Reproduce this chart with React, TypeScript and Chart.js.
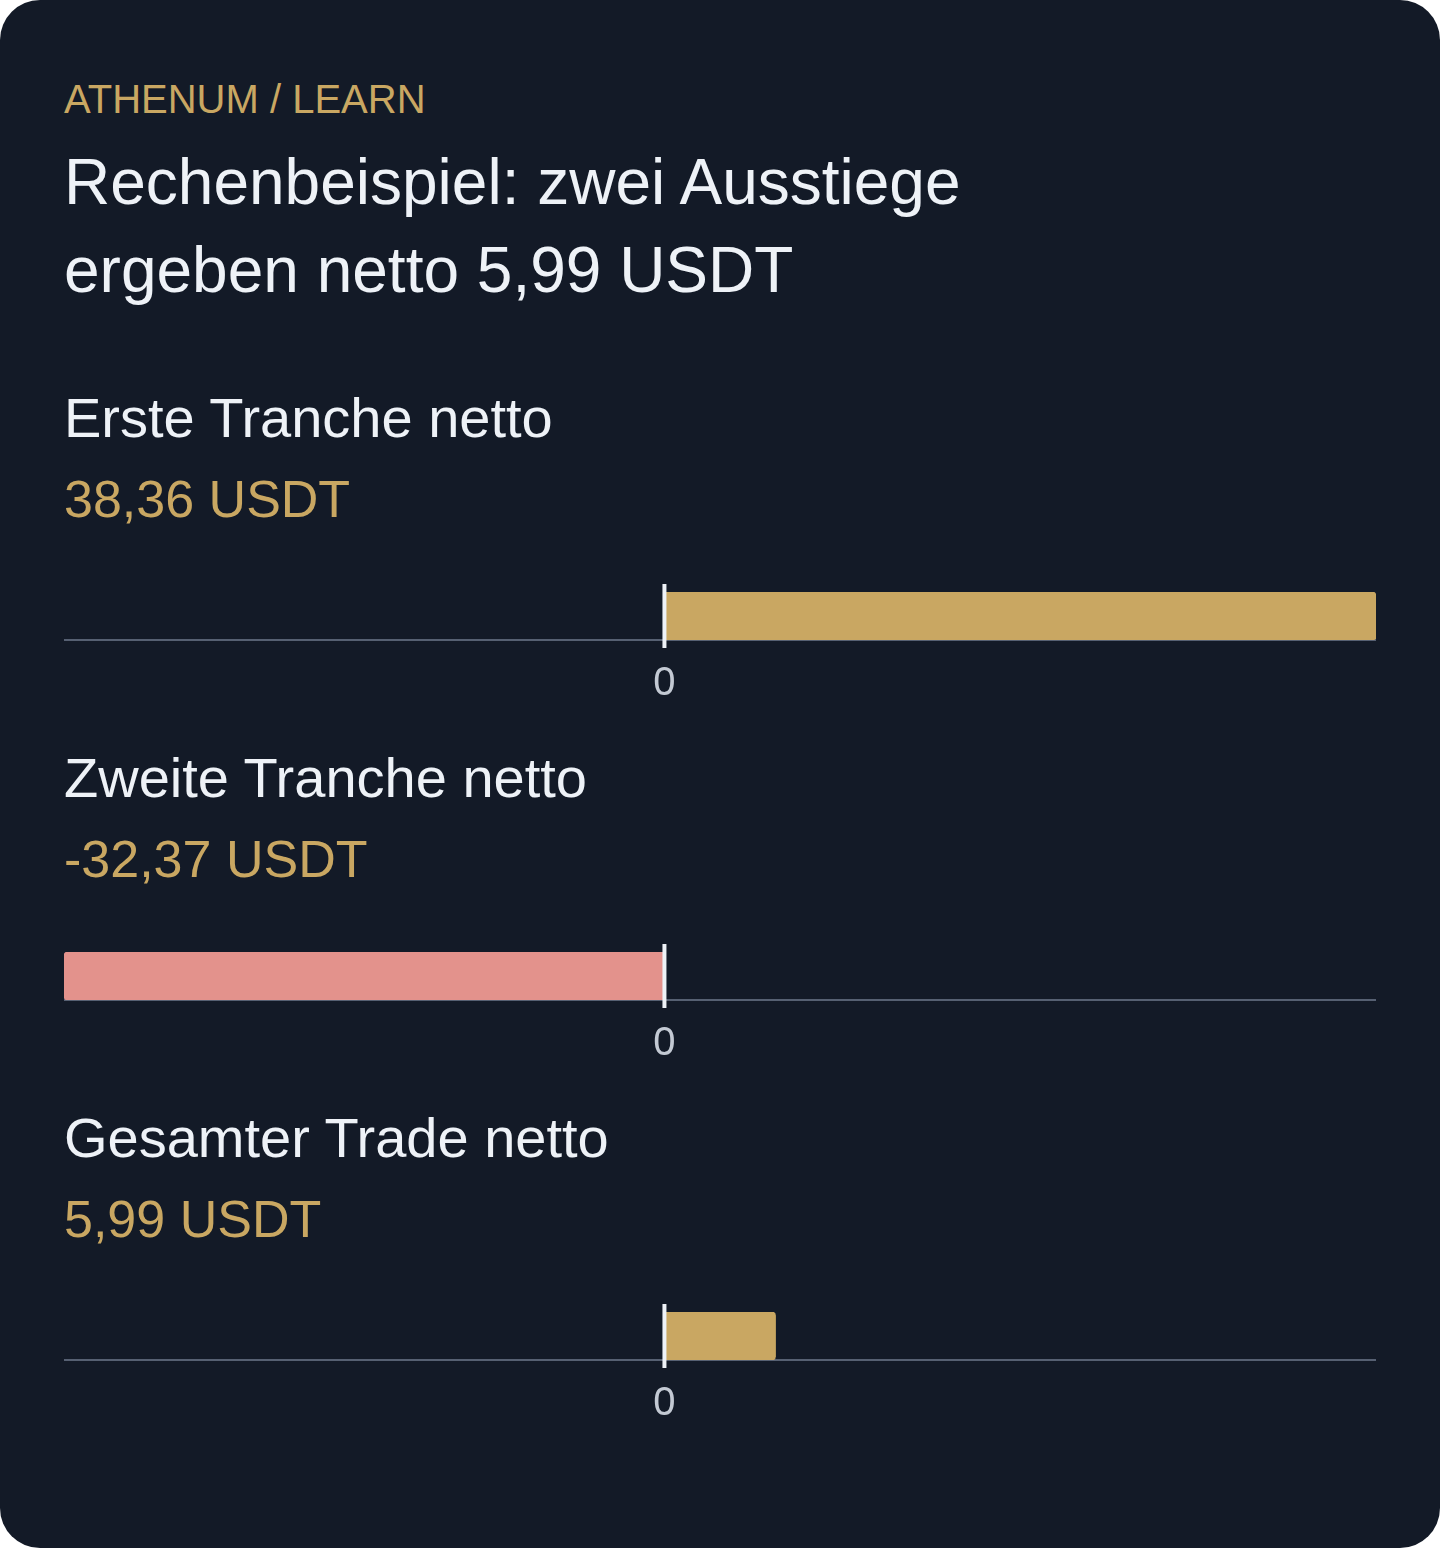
import React, { useEffect, useRef } from 'react';
import { Chart, registerables } from 'chart.js';

Chart.register(...registerables);

// ---- data ----
const eyebrowText = 'ATHENUM / LEARN';
const titleText = 'Rechenbeispiel: zwei Ausstiege ergeben netto 5,99 USDT';
const categories = ['Erste Tranche netto', 'Zweite Tranche netto', 'Gesamter Trade netto'];
const netValues = [38.36, -32.37, 5.99];
const valueLabels = ['38,36 USDT', '-32,37 USDT', '5,99 USDT'];
const tickValues = [0];

// ---- styles ----
const FONT = '"Liberation Sans", Arial, Helvetica, sans-serif';
const BG = '#131a27';
const GOLD = '#c9a762';
const PINK = '#e3928c';
const TEXT = '#eef2f7';
const TICK = '#c3c9d3';
const AXIS = '#566072';

const axisMin = Math.min(...netValues);
const axisMax = Math.max(...netValues);

const zeroLinePlugin = {
  id: 'zeroLine',
  afterDatasetsDraw(chart: any) {
    const { ctx, chartArea } = chart;
    const x = chart.scales.x.getPixelForValue(0);
    ctx.save();
    ctx.strokeStyle = TEXT;
    ctx.lineWidth = 4;
    ctx.beginPath();
    ctx.moveTo(x, chartArea.top - 8);
    ctx.lineTo(x, chartArea.bottom + 8);
    ctx.stroke();
    ctx.restore();
  },
};

function BarRow({ label, value }: { label: string; value: number }) {
  const ref = useRef<HTMLCanvasElement | null>(null);
  useEffect(() => {
    if (!ref.current) return;
    const chart = new Chart(ref.current, {
      type: 'bar',
      data: {
        labels: [label],
        datasets: [
          {
            data: [value],
            backgroundColor: value >= 0 ? GOLD : PINK,
            borderRadius: 4,
            borderSkipped: 'start',
            barPercentage: 1,
            categoryPercentage: 1,
          },
        ],
      },
      options: {
        indexAxis: 'y',
        animation: false,
        responsive: true,
        maintainAspectRatio: false,
        layout: { padding: { top: 16, bottom: 0, left: 0, right: 0 } },
        plugins: { legend: { display: false }, tooltip: { enabled: false } },
        scales: {
          y: { display: false },
          x: {
            type: 'linear',
            min: axisMin,
            max: axisMax,
            afterBuildTicks: (axis: any) => {
              axis.ticks = tickValues.map((v) => ({ value: v }));
            },
            afterFit: (axis: any) => {
              axis.height = 64;
            },
            grid: { display: false, drawTicks: false },
            border: { display: true, color: AXIS, width: 2 },
            ticks: {
              padding: 20,
              color: TICK,
              font: { family: FONT, size: 40 },
              maxRotation: 0,
              autoSkip: false,
              callback: (v: any) => String(v),
            },
          },
        },
      },
      plugins: [zeroLinePlugin],
    } as any);
    return () => chart.destroy();
  }, [label, value]);
  return (
    <div style={{ position: 'absolute', left: 64, top: 186, width: 1312, height: 128 }}>
      <canvas ref={ref} />
    </div>
  );
}

export default function App() {
  return (
    <>
      <style>{`html,body{margin:0;padding:0;background:#ffffff;}`}</style>
      <div
        style={{
          position: 'relative',
          width: 1440,
          height: 1548,
          background: BG,
          borderRadius: 40,
          overflow: 'hidden',
          fontFamily: FONT,
        }}
      >
        <div
          style={{
            position: 'absolute',
            left: 64,
            top: 79,
            fontSize: 40,
            lineHeight: '40px',
            color: GOLD,
            whiteSpace: 'nowrap',
          }}
        >
          {eyebrowText}
        </div>
        <div
          style={{
            position: 'absolute',
            left: 64,
            top: 138,
            width: 1000,
            fontSize: 64,
            lineHeight: '88px',
            color: TEXT,
          }}
        >
          {titleText}
        </div>
        {categories.map((cat, i) => (
          <div
            key={cat}
            style={{ position: 'absolute', left: 0, top: 390 + 360 * i, width: 1440, height: 360 }}
          >
            <div
              style={{
                position: 'absolute',
                left: 64,
                top: 0,
                fontSize: 56,
                lineHeight: '56px',
                color: TEXT,
                whiteSpace: 'nowrap',
              }}
            >
              {cat}
            </div>
            <div
              style={{
                position: 'absolute',
                left: 64,
                top: 83,
                fontSize: 52,
                lineHeight: '52px',
                color: GOLD,
                whiteSpace: 'nowrap',
              }}
            >
              {valueLabels[i]}
            </div>
            <BarRow label={cat} value={netValues[i]} />
          </div>
        ))}
      </div>
    </>
  );
}
